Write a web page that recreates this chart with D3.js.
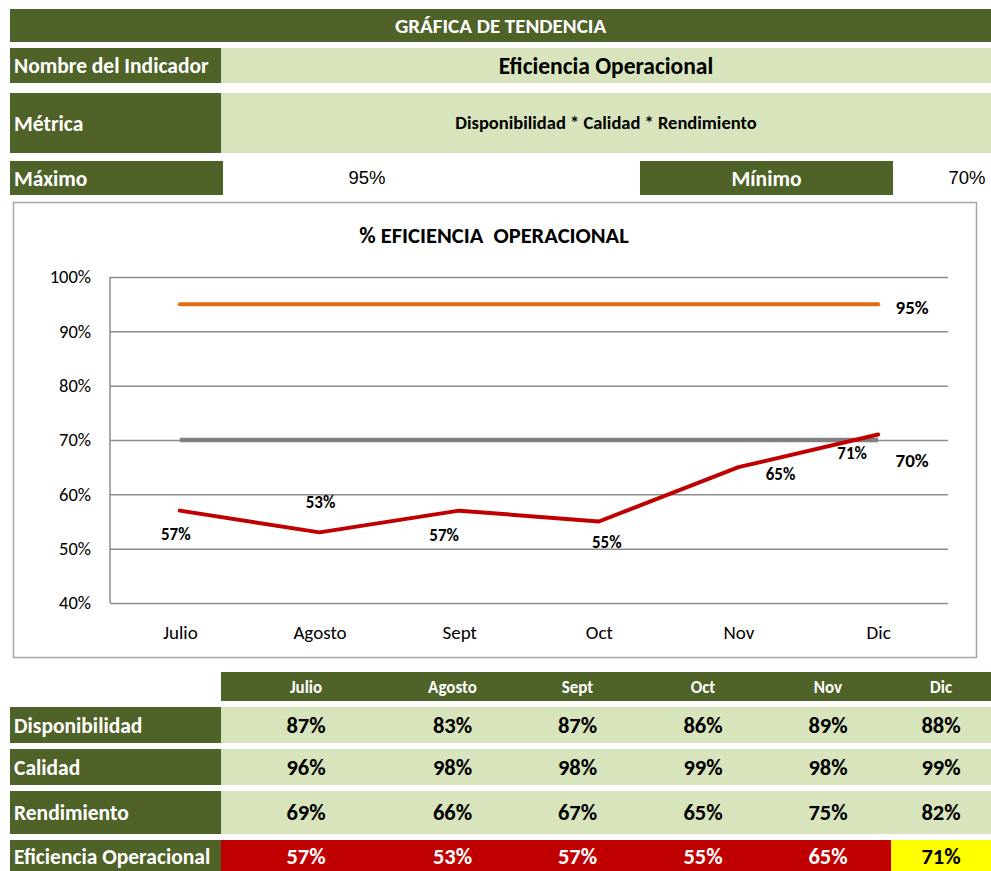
<!DOCTYPE html>
<html>
<head>
<meta charset="utf-8">
<script src="https://cdn.jsdelivr.net/npm/d3@7"></script>
<style>
  body { margin: 0; background: #fff; }
  svg text { font-family: Carlito, Calibri, Lato, sans-serif; }
</style>
</head>
<body>
<svg id="sheet" width="991" height="871"></svg>
<script>
// Data
var months = ['Julio', 'Agosto', 'Sept', 'Oct', 'Nov', 'Dic'];
var disponibilidad = [0.87, 0.83, 0.87, 0.86, 0.89, 0.88];
var calidad = [0.96, 0.98, 0.98, 0.99, 0.98, 0.99];
var rendimiento = [0.69, 0.66, 0.67, 0.65, 0.75, 0.82];
var eficiencia = [0.57, 0.53, 0.57, 0.55, 0.65, 0.71];
var maximo = 0.95;
var minimo = 0.70;
var yTicks = [0.4, 0.5, 0.6, 0.7, 0.8, 0.9, 1.0];

var GREEN = '#4F6228', LIGHT = '#D8E4BC', RED = '#C00000';
var pct = d3.format('.0%');

var svg = d3.select('#sheet');

// Helper for a filled cell with text
function cell(x, y, w, h, fill, text, opts) {
  opts = opts || {};
  svg.append('rect').attr('x', x).attr('y', y).attr('width', w).attr('height', h).attr('fill', fill);
  if (text == null) return;
  var anchor = opts.anchor || 'middle';
  var tx = anchor === 'start' ? x + 4 : x + w / 2;
  svg.append('text')
    .attr('x', tx).attr('y', opts.ty || y + h / 2)
    .attr('dy', '0.35em')
    .attr('text-anchor', anchor)
    .attr('font-size', opts.size || 21.5)
    .attr('font-weight', opts.weight || 'bold')
    .attr('fill', opts.color || '#fff')
    .text(text);
}

// Header block
cell(10, 9, 981, 33, GREEN, 'GRÁFICA DE TENDENCIA', { size: 21 });
cell(10, 48, 211, 35, GREEN, 'Nombre del Indicador', { anchor: 'start' });
cell(221, 48, 770, 35, LIGHT, 'Eficiencia Operacional', { size: 23.5, color: '#000' });
cell(10, 93, 211, 60, GREEN, 'Métrica', { anchor: 'start' });
cell(221, 93, 770, 60, LIGHT, 'Disponibilidad * Calidad * Rendimiento', { size: 18.5, color: '#000' });
cell(10, 161, 213, 34, GREEN, 'Máximo', { anchor: 'start' });
cell(640, 161, 253, 34, GREEN, 'Mínimo');

svg.append('text').attr('x', 367).attr('y', 184).attr('text-anchor', 'middle')
  .attr('font-size', 18.5).style('font-family', 'Liberation Sans, Arial, sans-serif')
  .text(pct(maximo));
svg.append('text').attr('x', 967).attr('y', 184).attr('text-anchor', 'middle')
  .attr('font-size', 18.5).style('font-family', 'Liberation Sans, Arial, sans-serif')
  .text(pct(minimo));

// Chart frame
svg.append('rect').attr('x', 13.5).attr('y', 202.5).attr('width', 963).attr('height', 455)
  .attr('fill', '#fff').attr('stroke', '#a6a6a6').attr('stroke-width', 1.5);

svg.append('text').attr('x', 494).attr('y', 235).attr('dy', '0.35em')
  .attr('text-anchor', 'middle').attr('font-size', 22.5).attr('font-weight', 'bold')
  .style('white-space', 'pre')
  .text('% EFICIENCIA  OPERACIONAL');

// Scales
var x = d3.scalePoint().domain(months).range([110, 948]).padding(0.5);
var y = d3.scaleLinear().domain([0.4, 1.0]).range([603, 277]);

// Gridlines
var grid = svg.append('g').attr('transform', 'translate(110,0)')
  .call(d3.axisLeft(y).tickValues(yTicks).tickSize(-(948 - 110)).tickFormat(pct));
grid.select('.domain').remove();
grid.selectAll('.tick line').attr('stroke', '#8c8c8c').attr('stroke-width', 1.5);
grid.selectAll('.tick text').attr('x', -19).attr('font-size', 18.5).attr('fill', '#000')
  .style('font-family', 'Carlito, Calibri, Lato, sans-serif');

// Left axis line
svg.append('line').attr('x1', 110).attr('x2', 110).attr('y1', 277).attr('y2', 603)
  .attr('stroke', '#8c8c8c').attr('stroke-width', 1.5);

// X axis labels
var xa = svg.append('g').attr('transform', 'translate(0,603)')
  .call(d3.axisBottom(x).tickSize(0).tickPadding(23));
xa.select('.domain').remove();
xa.selectAll('.tick text').attr('font-size', 19).attr('fill', '#000')
  .style('font-family', 'Carlito, Calibri, Lato, sans-serif');

// Lines
var line = d3.line().x(function(d, i) { return x(months[i]); }).y(function(d) { return y(d); });

svg.append('path').datum(months.map(function() { return minimo; }))
  .attr('d', line).attr('fill', 'none').attr('stroke', '#808080').attr('stroke-width', 4.5);
svg.append('path').datum(months.map(function() { return maximo; }))
  .attr('d', line).attr('fill', 'none').attr('stroke', '#E46C0A').attr('stroke-width', 4)
  .attr('stroke-linecap', 'round');
svg.append('path').datum(eficiencia)
  .attr('d', line).attr('fill', 'none').attr('stroke', RED).attr('stroke-width', 4)
  .attr('stroke-linecap', 'round').attr('stroke-linejoin', 'round');

// Data labels (offsets relative to point)
var labelOffsets = [[-4, 23], [1, -30], [-15, 24], [8, 21], [42, 7], [-26, 18]];
svg.selectAll('.lbl').data(eficiencia).enter().append('text')
  .attr('class', 'lbl')
  .attr('x', function(d, i) { return x(months[i]) + labelOffsets[i][0]; })
  .attr('y', function(d, i) { return y(d) + labelOffsets[i][1]; })
  .attr('dy', '0.35em').attr('text-anchor', 'middle')
  .attr('font-size', 17).attr('font-weight', 'bold')
  .text(function(d) { return pct(d); });

svg.append('text').attr('x', x('Dic') + 34).attr('y', y(maximo) + 3).attr('dy', '0.35em')
  .attr('text-anchor', 'middle').attr('font-size', 19).attr('font-weight', 'bold').text(pct(maximo));
svg.append('text').attr('x', x('Dic') + 34).attr('y', y(minimo) + 20).attr('dy', '0.35em')
  .attr('text-anchor', 'middle').attr('font-size', 19).attr('font-weight', 'bold').text(pct(minimo));

// Table
var colEdges = [221, 391, 514, 641, 765, 891, 991];
var rows = [
  { label: 'Disponibilidad', values: disponibilidad, y: 707, h: 36 },
  { label: 'Calidad', values: calidad, y: 749, h: 36 },
  { label: 'Rendimiento', values: rendimiento, y: 791, h: 43 },
  { label: 'Eficiencia Operacional', values: eficiencia, y: 840, h: 31 }
];

cell(221, 672, 770, 29, GREEN, null);
months.forEach(function(m, i) {
  svg.append('text').attr('x', (colEdges[i] + colEdges[i + 1]) / 2).attr('y', 687)
    .attr('dy', '0.35em').attr('text-anchor', 'middle').attr('font-size', 17)
    .attr('font-weight', 'bold').attr('fill', '#fff').text(m);
});

rows.forEach(function(r, ri) {
  var isLast = ri === rows.length - 1;
  var ty = isLast ? 856 : r.y + r.h / 2;
  cell(10, r.y, 211, r.h, GREEN, r.label, { anchor: 'start', ty: ty });
  if (!isLast) cell(221, r.y, 770, r.h, LIGHT, null);
  r.values.forEach(function(v, i) {
    var x0 = colEdges[i], x1 = colEdges[i + 1];
    var color = '#000';
    if (isLast) {
      var fill = v >= minimo ? '#FFFF00' : RED;
      color = v >= minimo ? '#000' : '#fff';
      svg.append('rect').attr('x', x0).attr('y', r.y).attr('width', x1 - x0).attr('height', r.h).attr('fill', fill);
    }
    svg.append('text').attr('x', (x0 + x1) / 2).attr('y', ty)
      .attr('dy', '0.35em').attr('text-anchor', 'middle').attr('font-size', 22.5)
      .attr('font-weight', 'bold').attr('fill', color).text(pct(v));
  });
});
</script>
</body>
</html>
